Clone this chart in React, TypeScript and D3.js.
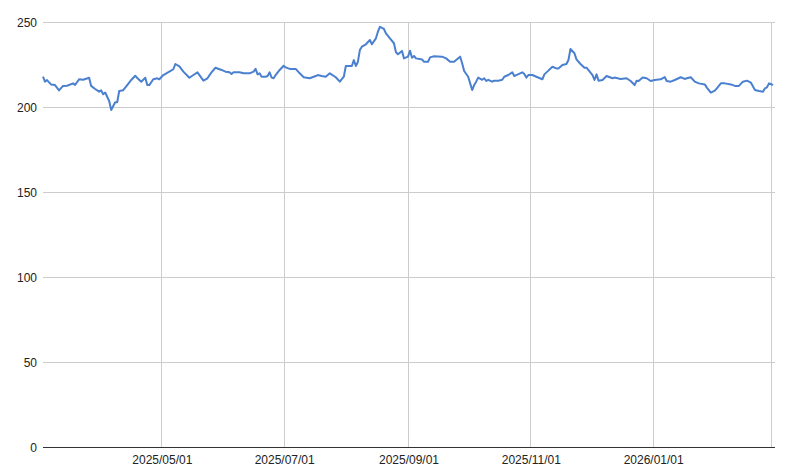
import React from 'react';
import * as d3 from 'd3';

// Daily price points
const dates: string[] = [
  '2025-03-03', '2025-03-04', '2025-03-05', '2025-03-07', '2025-03-09', '2025-03-11', '2025-03-13', '2025-03-15',
  '2025-03-18', '2025-03-19', '2025-03-21', '2025-03-23', '2025-03-26', '2025-03-27', '2025-03-29', '2025-03-31',
  '2025-04-01', '2025-04-02', '2025-04-03', '2025-04-05', '2025-04-06', '2025-04-08', '2025-04-09', '2025-04-10',
  '2025-04-12', '2025-04-14', '2025-04-16', '2025-04-18', '2025-04-19', '2025-04-21', '2025-04-23', '2025-04-24',
  '2025-04-25', '2025-04-27', '2025-04-29', '2025-04-30', '2025-05-02', '2025-05-05', '2025-05-07', '2025-05-08',
  '2025-05-10', '2025-05-12', '2025-05-15', '2025-05-17', '2025-05-19', '2025-05-22', '2025-05-24', '2025-05-26',
  '2025-05-28', '2025-05-31', '2025-06-02', '2025-06-04', '2025-06-05', '2025-06-06', '2025-06-09', '2025-06-11',
  '2025-06-14', '2025-06-16', '2025-06-17', '2025-06-18', '2025-06-19', '2025-06-20', '2025-06-22', '2025-06-23',
  '2025-06-24', '2025-06-25', '2025-06-26', '2025-06-27', '2025-06-29', '2025-07-01', '2025-07-02', '2025-07-04',
  '2025-07-07', '2025-07-09', '2025-07-11', '2025-07-14', '2025-07-16', '2025-07-17', '2025-07-18', '2025-07-20',
  '2025-07-22', '2025-07-24', '2025-07-27', '2025-07-29', '2025-07-31', '2025-08-01', '2025-08-04', '2025-08-05',
  '2025-08-06', '2025-08-07', '2025-08-08', '2025-08-09', '2025-08-11', '2025-08-13', '2025-08-14', '2025-08-16',
  '2025-08-17', '2025-08-18', '2025-08-20', '2025-08-21', '2025-08-23', '2025-08-25', '2025-08-26', '2025-08-27',
  '2025-08-29', '2025-08-30', '2025-09-01', '2025-09-02', '2025-09-03', '2025-09-04', '2025-09-05', '2025-09-08',
  '2025-09-09', '2025-09-11', '2025-09-12', '2025-09-14', '2025-09-18', '2025-09-20', '2025-09-22', '2025-09-24',
  '2025-09-25', '2025-09-27', '2025-09-28', '2025-09-29', '2025-10-01', '2025-10-02', '2025-10-03', '2025-10-04',
  '2025-10-05', '2025-10-06', '2025-10-08', '2025-10-09', '2025-10-10', '2025-10-11', '2025-10-13', '2025-10-14',
  '2025-10-16', '2025-10-18', '2025-10-19', '2025-10-21', '2025-10-23', '2025-10-24', '2025-10-25', '2025-10-28',
  '2025-10-29', '2025-10-30', '2025-10-31', '2025-11-02', '2025-11-04', '2025-11-07', '2025-11-08', '2025-11-10',
  '2025-11-12', '2025-11-14', '2025-11-15', '2025-11-17', '2025-11-19', '2025-11-20', '2025-11-21', '2025-11-23',
  '2025-11-24', '2025-11-26', '2025-11-28', '2025-11-29', '2025-12-02', '2025-12-03', '2025-12-04', '2025-12-05',
  '2025-12-07', '2025-12-09', '2025-12-12', '2025-12-13', '2025-12-16', '2025-12-19', '2025-12-21', '2025-12-23',
  '2025-12-24', '2025-12-25', '2025-12-27', '2025-12-29', '2025-12-31', '2026-01-02', '2026-01-05', '2026-01-07',
  '2026-01-08', '2026-01-10', '2026-01-12', '2026-01-15', '2026-01-17', '2026-01-18', '2026-01-20', '2026-01-22',
  '2026-01-24', '2026-01-27', '2026-01-28', '2026-01-30', '2026-02-01', '2026-02-02', '2026-02-04', '2026-02-06',
  '2026-02-09', '2026-02-11', '2026-02-13', '2026-02-15', '2026-02-17', '2026-02-19', '2026-02-21', '2026-02-23',
  '2026-02-25', '2026-02-26', '2026-02-27', '2026-02-28', '2026-03-01', '2026-03-02',
];

const values: number[] = [
  217.8, 214.9, 215.8, 213.3, 212.9, 209.8, 212.4, 212.5,
  213.9, 213.0, 216.3, 216.0, 217.2, 212.4, 210.6, 209.0,
  209.8, 207.5, 208.5, 203.5, 198.2, 202.8, 202.8, 209.4,
  209.9, 212.9, 215.9, 218.4, 217.0, 214.9, 217.2, 212.9,
  212.9, 216.3, 216.9, 216.3, 218.8, 220.8, 222.2, 225.3,
  223.9, 220.8, 217.2, 218.8, 220.4, 215.5, 216.9, 220.4,
  223.1, 221.8, 220.8, 220.4, 219.4, 220.4, 220.4, 219.8,
  219.8, 220.8, 222.4, 219.2, 219.8, 217.8, 217.8, 218.2,
  220.4, 217.3, 216.9, 218.8, 221.8, 224.3, 223.3, 222.4,
  222.4, 219.8, 217.5, 216.9, 217.8, 218.2, 218.8, 218.2,
  217.8, 219.8, 217.5, 214.9, 217.8, 224.1, 224.1, 227.6,
  224.1, 226.5, 233.5, 235.5, 236.9, 239.4, 236.9, 240.4,
  244.3, 247.2, 245.9, 243.3, 240.4, 237.5, 232.2, 231.0,
  233.0, 228.6, 229.6, 233.1, 229.0, 230.0, 228.6, 228.0,
  226.6, 226.6, 229.2, 229.8, 229.6, 228.6, 226.6, 226.6,
  227.6, 229.6, 225.7, 221.2, 217.8, 213.9, 210.0, 212.9,
  214.9, 217.3, 216.0, 216.9, 215.3, 216.0, 214.9, 215.5,
  215.5, 216.0, 217.8, 218.8, 220.4, 218.2, 218.8, 220.4,
  219.4, 217.3, 218.8, 218.8, 217.8, 216.3, 219.2, 221.4,
  223.7, 222.7, 222.7, 224.7, 225.3, 227.6, 234.1, 231.6,
  228.0, 225.3, 223.1, 223.1, 218.8, 215.9, 219.2, 215.5,
  215.9, 218.2, 216.9, 217.3, 216.5, 216.9, 215.3, 212.9,
  215.5, 215.3, 217.3, 216.9, 215.3, 215.9, 216.3, 217.6,
  215.3, 214.9, 215.9, 217.5, 216.5, 216.9, 217.5, 214.9,
  213.9, 213.3, 211.4, 208.4, 209.6, 211.0, 213.9, 213.9,
  213.3, 212.4, 212.4, 214.9, 215.5, 214.3, 210.0, 209.4,
  209.0, 211.0, 211.6, 213.9, 213.5, 212.9,
];

const yTicks: number[] = [0, 50, 100, 150, 200, 250];
const xTicks: string[] = ['2025-05-01', '2025-07-01', '2025-09-01', '2025-11-01', '2026-01-01', '2026-03-01'];
const xTickLabels: string[] = ['2025/05/01', '2025/07/01', '2025/09/01', '2025/11/01', '2026/01/01', ''];

const W = 788;
const H = 473;
const margin = { top: 22, right: 15, bottom: 26, left: 43 };

const parse = d3.utcParse('%Y-%m-%d');

export default function App() {
  const points = dates.map((d, i) => ({ date: parse(d) as Date, value: values[i] }));

  const x = d3
    .scaleUtc()
    .domain([parse('2025-03-03') as Date, parse('2026-03-02') as Date])
    .range([margin.left, W - margin.right]);

  const y = d3
    .scaleLinear()
    .domain([0, 250])
    .range([H - margin.bottom, margin.top]);

  const line = d3
    .line<{ date: Date; value: number }>()
    .x(d => x(d.date))
    .y(d => y(d.value));

  const font = 'Arial, "Liberation Sans", sans-serif';

  return (
    <svg
      width={W}
      height={H}
      style={{ position: 'absolute', left: 0, top: 0, background: '#fff', display: 'block' }}
    >
      {/* horizontal grid */}
      {yTicks.filter(t => t > 0).map(t => (
        <line
          key={`h${t}`}
          x1={margin.left}
          x2={W - margin.right + 2}
          y1={y(t) + 0.5}
          y2={y(t) + 0.5}
          stroke="#cccccc"
          strokeWidth={1}
        />
      ))}
      {/* vertical grid */}
      {xTicks.map(t => {
        const px = Math.round(x(parse(t) as Date)) + 0.5;
        return (
          <line key={`v${t}`} x1={px} x2={px} y1={margin.top} y2={H - margin.bottom} stroke="#cccccc" strokeWidth={1} />
        );
      })}
      {/* y labels */}
      {yTicks.map(t => (
        <text
          key={`yl${t}`}
          x={37}
          y={y(t) + 4.5}
          textAnchor="end"
          fontFamily={font}
          fontSize={12}
          fill="#222"
        >
          {t}
        </text>
      ))}
      {/* x labels */}
      {xTicks.map((t, i) => (
        <text
          key={`xl${t}`}
          x={x(parse(t) as Date) + 1}
          y={464}
          textAnchor="middle"
          fontFamily={font}
          fontSize={12}
          fill="#222"
        >
          {xTickLabels[i]}
        </text>
      ))}
      {/* baseline */}
      <line
        x1={margin.left}
        x2={W - margin.right + 2}
        y1={y(0) + 0.5}
        y2={y(0) + 0.5}
        stroke="#333"
        strokeWidth={1}
      />
      {/* series */}
      <path d={line(points) || ''} fill="none" stroke="#4a80cf" strokeWidth={2} strokeLinejoin="round" />
    </svg>
  );
}
